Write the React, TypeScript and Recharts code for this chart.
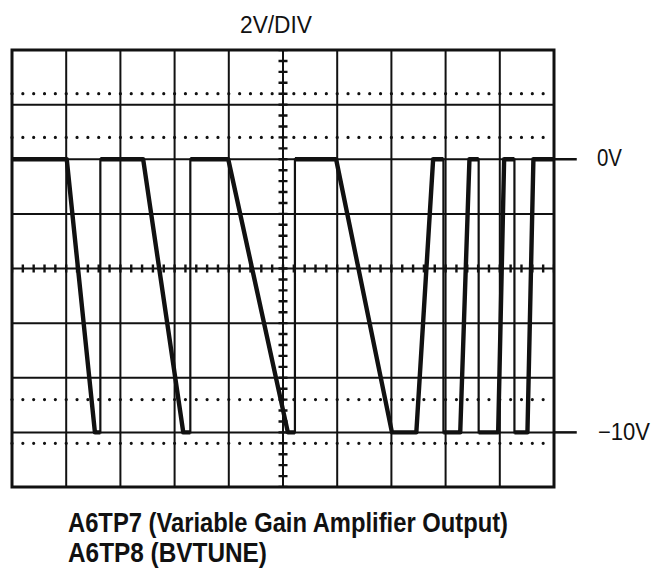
import React from 'react';
import { LineChart, Line, XAxis, YAxis, CartesianGrid, ReferenceLine, ReferenceArea } from 'recharts';

// time in divisions, voltage in volts (2V/DIV)
const traceTime = [0, 1.01, 1.53, 1.63, 1.63, 2.42, 3.16, 3.29, 3.29, 3.99, 5.09, 5.22, 5.22, 5.98, 7.01, 7.46, 7.77, 7.96, 7.96, 8.27, 8.44, 8.61, 8.61, 8.97, 9.08, 9.27, 9.27, 9.51, 9.62, 10];
const traceVolts = [0, 0, -10, -10, 0, 0, -10, -10, 0, 0, -10, -10, 0, 0, -10, -10, 0, 0, -10, -10, 0, 0, -10, -10, 0, 0, -10, -10, 0, 0];

const gridTime = [0, 1, 2, 3, 4, 5, 6, 7, 8, 9, 10];
const gridVolts = [-12, -10, -8, -6, -4, -2, 0, 2, 4];
const dottedVolts = [2.4, 0.8, -8.8, -10.4];
const markerVolts = [0, -10];

const trace = traceTime.map((t, i) => ({ t, v: traceVolts[i] }));
// slow parts of the sweep are drawn heavier; break the heavy line at fast edges
const slowTrace: { t: number; v: number | null }[] = [];
trace.forEach((p, i) => {
  if (i > 0 && p.t === trace[i - 1].t) slowTrace.push({ t: p.t, v: null });
  slowTrace.push(p);
});

const INK = '#111';
const FONT = '"Liberation Sans", Arial, sans-serif';

export default function App() {
  return (
    <div style={{ position: 'relative', width: 661, height: 566, background: '#fff' }}>
      <LineChart width={653} height={500} margin={{ top: 42, left: 4, right: 107, bottom: 21 }}>
        <XAxis dataKey="t" type="number" domain={[0, 10]} ticks={gridTime} allowDataOverflow hide />
        <YAxis type="number" domain={[-12, 4]} ticks={gridVolts} allowDataOverflow hide />
        <CartesianGrid stroke={INK} strokeWidth={2} strokeOpacity={1} />
        {dottedVolts.map((v) => (
          <ReferenceLine key={'d' + v} y={v} stroke={INK} strokeWidth={3.2} strokeDasharray="0 10.84" strokeLinecap="round" />
        ))}
        <ReferenceLine y={-4} stroke={INK} strokeWidth={8} strokeDasharray="2.4 8.44" strokeDashoffset={1.2} />
        <ReferenceLine x={5} stroke={INK} strokeWidth={9} strokeDasharray="2.4 8.525" strokeDashoffset={1.2} />
        <ReferenceArea x1={0} x2={10} y1={-12} y2={4} fill="none" fillOpacity={0} stroke={INK} strokeWidth={3} />
        {markerVolts.map((v) => (
          <ReferenceLine key={'m' + v} segment={[{ x: 10, y: v }, { x: 10.42, y: v }]} ifOverflow="visible" stroke={INK} strokeWidth={2.5} />
        ))}
        <Line data={trace} dataKey="v" type="linear" stroke={INK} strokeWidth={2.2} dot={false} isAnimationActive={false} />
        <Line data={slowTrace} dataKey="v" type="linear" stroke={INK} strokeWidth={4.4} strokeLinejoin="round" dot={false} isAnimationActive={false} />
      </LineChart>
      <svg width={661} height={566} style={{ position: 'absolute', left: 0, top: 0, pointerEvents: 'none' }}>
        <text x={232} y={25} fontFamily={FONT} fontSize={23} fill={INK} textLength={72} lengthAdjust="spacingAndGlyphs">2V/DIV</text>
        <text x={589} y={158} fontFamily={FONT} fontSize={23} fill={INK} textLength={25} lengthAdjust="spacingAndGlyphs">0V</text>
        <text x={590} y={432} fontFamily={FONT} fontSize={23} fill={INK} textLength={52} lengthAdjust="spacingAndGlyphs">−10V</text>
        <text x={60} y={524} fontFamily={FONT} fontSize={28} fontWeight="bold" fill={INK} textLength={440} lengthAdjust="spacingAndGlyphs">A6TP7 (Variable Gain Amplifier Output)</text>
        <text x={60} y={554} fontFamily={FONT} fontSize={28} fontWeight="bold" fill={INK} textLength={199} lengthAdjust="spacingAndGlyphs">A6TP8 (BVTUNE)</text>
      </svg>
    </div>
  );
}
